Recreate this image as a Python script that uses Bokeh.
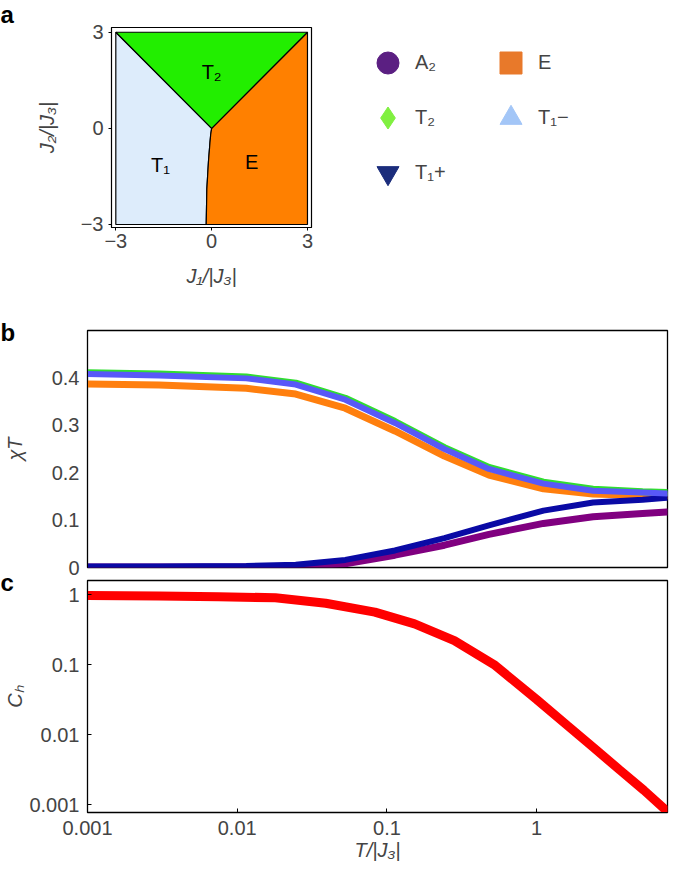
from bokeh.plotting import figure
from bokeh.models import Range1d, FixedTicker, Legend, LegendItem
from bokeh.layouts import column, row
from bokeh.core.properties import value
from bokeh.embed import file_html
from bokeh.resources import INLINE

FONT = "Liberation Sans"

# ---------------- panel letters ----------------
panel_letters = ["a", "b", "c"]
letter_baseline_px = [22, 340, 590]   # page position of each letter's baseline

# ---------------- panel a: phase diagram ----------------
phase_ticks = [-3, 0, 3]
t2_j1 = [-3, 3, 0]
t2_j2 = [3, 3, 0]
bnd_j1 = [0, -0.03, -0.05, -0.1, -0.15, -0.17]
bnd_j2 = [0, -0.2, -0.42, -1.05, -1.9, -3]
phase_labels = ["T₂", "T₁", "E"]
phase_label_j1 = [0, -1.6, 1.25]
phase_label_j2 = [1.75, -1.15, -1.05]

# ---------------- panel b: chi T ----------------
T_b = [0.001, 0.003, 0.0115, 0.0246, 0.0527, 0.113, 0.242, 0.48, 1.11, 2.38, 5.1, 7.4]
chi_T1m = [0.408, 0.405, 0.399, 0.386, 0.354, 0.305, 0.250, 0.208, 0.177, 0.162, 0.158, 0.156]
chi_T2 = [0.411, 0.408, 0.402, 0.389, 0.357, 0.308, 0.253, 0.211, 0.180, 0.165, 0.160, 0.158]
chi_E = [0.387, 0.385, 0.378, 0.366, 0.336, 0.288, 0.235, 0.195, 0.166, 0.155, 0.152, 0.151]
chi_T1p = [0.002, 0.002, 0.003, 0.006, 0.016, 0.036, 0.062, 0.089, 0.120, 0.137, 0.143, 0.147]
chi_A2 = [0.001, 0.001, 0.001, 0.002, 0.008, 0.026, 0.047, 0.070, 0.093, 0.107, 0.114, 0.117]
chi_ticks = [0, 0.1, 0.2, 0.3, 0.4]

# ---------------- panel c: C_h ----------------
T_c = [0.001, 0.003, 0.0075, 0.018, 0.039, 0.083, 0.153, 0.282, 0.519, 1.0,
       1.6, 2.4, 3.6, 5.2, 7.3]
C_h = [0.97, 0.955, 0.93, 0.898, 0.75, 0.56, 0.38, 0.219, 0.100, 0.0316,
       0.0135, 0.0065, 0.0031, 0.0016, 0.00083]
log_ticks = [0.001, 0.01, 0.1, 1]
log_tick_labels = ["0.001", "0.01", "0.1", "1"]

# legend
legend_labels = ["A₂", "E", "T₂", "T₁−", "T₁+"]
legend_markers = ["circle", "square", "diamond", "triangle", "inverted_triangle"]
legend_colors = ["#5b1f82", "#e8792a", "#80f040", "#a3c6f7", "#1b2d7c"]
curve_colors = {"A2": "#800080", "E": "#ff7f0e", "T2": "#30dd30", "T1m": "#5858f8", "T1p": "#0a0aa5"}

XMAX = 7.48
STRIP_H = 860


def style_axis(ax, size="20px"):
    ax.major_label_text_font = FONT
    ax.major_label_text_font_size = size
    ax.axis_label_text_font = FONT
    ax.axis_label_text_font_size = size
    ax.axis_label_text_font_style = "italic"
    ax.minor_tick_line_color = None
    ax.axis_line_color = "black"
    ax.major_tick_line_color = "black"


def borders(p, l, r, t, b):
    p.min_border_left = l
    p.min_border_right = r
    p.min_border_top = t
    p.min_border_bottom = b


# ---------- letters strip (underneath the panels) ----------
pl = figure(width=24, height=STRIP_H, x_range=Range1d(0, 24), y_range=Range1d(STRIP_H, 0),
            x_axis_location=None, y_axis_location=None,
            output_backend="svg", toolbar_location=None)
borders(pl, 0, 0, 0, 0)
pl.grid.visible = False
pl.outline_line_color = None
pl.background_fill_alpha = 0
pl.border_fill_alpha = 0
pl.text(x=[0, 0, 0], y=[v - 8 for v in letter_baseline_px], text=panel_letters,
        text_align="left", text_baseline="alphabetic", text_font=value(FONT),
        text_font_size="24px", text_font_style="bold", text_color="black")

# ---------- figure a ----------
pa = figure(width=322, height=292,
            x_range=Range1d(-3.135, 3.126), y_range=Range1d(-3.094, 3.148),
            output_backend="svg", toolbar_location=None)
borders(pa, 103, 19, 19, 73)
pa.grid.visible = False
pa.outline_line_color = "black"
pa.outline_line_width = 1.2
pa.border_fill_alpha = 0

t1_x = [-3] + bnd_j1 + [-3]
t1_y = [3] + bnd_j2 + [-3]
e_x = [3] + bnd_j1 + [3]
e_y = [3] + bnd_j2 + [-3]
pa.patch(x=t1_x, y=t1_y, fill_color="#ddecfb", line_color="black", line_width=1.2)
pa.patch(x=e_x, y=e_y, fill_color="#ff8000", line_color="black", line_width=1.2)
pa.patch(x=t2_j1, y=t2_j2, fill_color="#22ee00", line_color="black", line_width=1.2)
pa.text(x=phase_label_j1, y=phase_label_j2, text=phase_labels, text_align="center",
        text_baseline="middle", text_font=value(FONT), text_font_size="20px", text_color="black")

for ax in (pa.xaxis[0], pa.yaxis[0]):
    style_axis(ax)
    ax.ticker = FixedTicker(ticks=phase_ticks)
    ax.major_label_overrides = {-3: "−3", 0: "0", 3: "3"}
    ax.major_tick_in = 0
    ax.major_tick_out = 3
    ax.major_label_standoff = 5
pa.xaxis.major_label_standoff = 3
pa.xaxis.axis_label = "J₁/|J₃|"
pa.xaxis.axis_label_standoff = 14
pa.yaxis.axis_label = "J₂/|J₃|"
pa.yaxis.axis_label_standoff = 20


# ---------- legend figures ----------
def legend_fig(idx, width, left):
    p = figure(width=width, height=292, x_range=Range1d(0, 1), y_range=Range1d(0, 1),
               x_axis_location=None, y_axis_location=None,
               output_backend="svg", toolbar_location=None)
    borders(p, left, 0, 19, 0)
    p.grid.visible = False
    p.outline_line_color = None
    p.border_fill_alpha = 0
    p.background_fill_alpha = 0
    items = []
    for i in idx:
        r = p.scatter(x=[float("nan")], y=[float("nan")], marker=legend_markers[i],
                      fill_color=legend_colors[i], line_color=legend_colors[i], size=22)
        items.append(LegendItem(label=legend_labels[i], renderers=[r]))
    lg = Legend(items=items, location="top_left", margin=8, padding=0, spacing=0,
                glyph_width=55, glyph_height=55, label_standoff=-5,
                label_text_font=FONT, label_text_font_size="20px",
                border_line_color=None, background_fill_alpha=0)
    p.add_layout(lg)
    return p


pl1 = legend_fig([0, 2, 4], 140, 22)
pl2 = legend_fig([1, 3], 199, 5)

# ---------- figure b ----------
pb = figure(width=669, height=279,
            x_axis_type="log", x_range=Range1d(0.001, XMAX), y_range=Range1d(0, 0.5),
            x_axis_location=None, output_backend="svg", toolbar_location=None)
borders(pb, 82, 2, 30, 12)
pb.grid.visible = False
pb.outline_line_color = "black"
pb.outline_line_width = 1.3
pb.border_fill_alpha = 0
pb.line(T_b, chi_E, line_color=curve_colors["E"], line_width=7, line_cap="round")
pb.line(T_b, chi_A2, line_color=curve_colors["A2"], line_width=7, line_cap="round")
pb.line(T_b, chi_T1p, line_color=curve_colors["T1p"], line_width=6, line_cap="round")
pb.line(T_b, chi_T2, line_color=curve_colors["T2"], line_width=7, line_cap="round")
pb.line(T_b, chi_T1m, line_color=curve_colors["T1m"], line_width=6, line_cap="round")
style_axis(pb.yaxis[0])
pb.yaxis.ticker = FixedTicker(ticks=chi_ticks)
pb.yaxis.major_label_overrides = {0: "0", 0.1: "0.1", 0.2: "0.2", 0.3: "0.3", 0.4: "0.4"}
pb.yaxis.major_tick_in = 0
pb.yaxis.major_tick_out = 0
pb.yaxis.major_label_standoff = 8
pb.yaxis.axis_label = "χT"
pb.yaxis.axis_label_standoff = 23

# ---------- figure c ----------
pc = figure(width=669, height=289,
            x_axis_type="log", y_axis_type="log",
            x_range=Range1d(0.001, XMAX), y_range=Range1d(0.00077, 1.585),
            output_backend="svg", toolbar_location=None)
borders(pc, 82, 2, 1, 56)
pc.grid.visible = False
pc.outline_line_color = "black"
pc.outline_line_width = 1.3
pc.border_fill_alpha = 0
pc.line(T_c, C_h, line_color="#ff0000", line_width=9, line_cap="round")
for ax in (pc.xaxis[0], pc.yaxis[0]):
    style_axis(ax)
    ax.ticker = FixedTicker(ticks=log_ticks)
    ax.major_label_overrides = {t: s for t, s in zip(log_ticks, log_tick_labels)}
    ax.major_tick_in = 4
    ax.major_tick_out = 0
pc.yaxis.major_label_standoff = 8
pc.yaxis.axis_label = "Cₕ"
pc.yaxis.axis_label_standoff = 0
pc.xaxis.major_label_standoff = 8
pc.xaxis.axis_label = "T/|J₃|"
pc.xaxis.axis_label_standoff = 1

top_row = row(pa, pl1, pl2)
top_row.margin = (8, 0, 0, 8)
main = column(top_row, pb, pc)
main.margin = (0, 0, 0, -24)
layout = row(pl, main)
open("out.html", "w").write(file_html(layout, INLINE))
